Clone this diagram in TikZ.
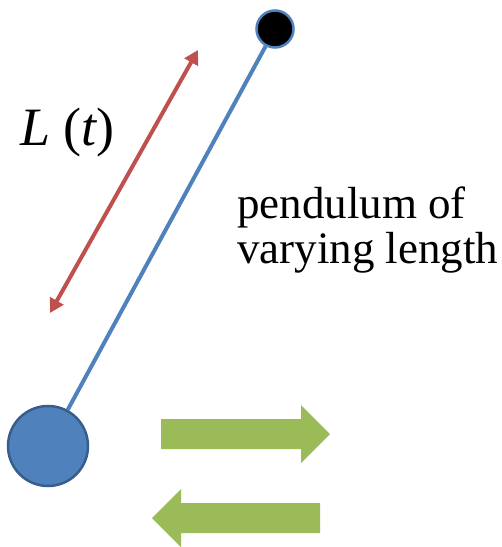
\documentclass[tikz,border=0pt]{standalone}
\usepackage{fontspec}
\setmainfont{Liberation Serif}
\usetikzlibrary{arrows.meta}
\definecolor{pblue}{HTML}{4F81BD}
\definecolor{pbluedark}{HTML}{385D8A}
\definecolor{pred}{HTML}{C0504D}
\definecolor{pgreen}{HTML}{9BBB59}
\tikzset{
  rod/.style={draw=pblue, line width=4pt},
  lenarrow/.style={draw=pred, line width=4pt, {Triangle[length=14pt,width=15pt]}-{Triangle[length=14pt,width=15pt]}},
  pivot/.style={circle, fill=black, draw=pblue, line width=2.5pt, minimum size=37pt, inner sep=0pt},
  bob/.style={circle, fill=pblue, draw=pbluedark, line width=2.5pt, minimum size=80pt, inner sep=0pt},
  motion/.style={fill=pgreen, draw=none},
  lbl/.style={anchor=base west, inner sep=0pt, font=\fontsize{45}{45}\selectfont, align=left}
}
\begin{document}
\begin{tikzpicture}[x=1pt,y=-1pt]
\useasboundingbox (0,0) rectangle (502,547);
\node[pivot] (top) at (275,29) {};
\node[bob] (mass) at (48,446) {};
\draw[rod] (top) -- (mass);
\coordinate (a1) at (198,50);
\coordinate (a2) at (50,313);
\draw[lenarrow] (a2) -- (a1);
\node[lbl, font=\fontsize{54}{58}\selectfont] (L) at (20,145) {\itshape L\upshape\ (\itshape t\upshape)};
\node[lbl] (txt) at (237,263) {pendulum of\\varying length};
\fill[motion] (161,419) -- (301,419) -- (301,405) -- (330,434) -- (301,463) -- (301,449) -- (161,449) -- cycle;
\fill[motion] (320,503) -- (181,503) -- (181,489) -- (152,518) -- (181,547) -- (181,533) -- (320,533) -- cycle;
\end{tikzpicture}
\end{document}
